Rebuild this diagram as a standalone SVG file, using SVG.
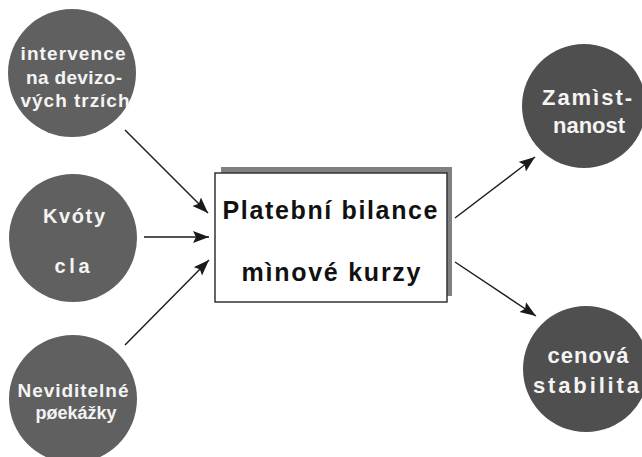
<svg xmlns="http://www.w3.org/2000/svg" width="642" height="457" viewBox="0 0 642 457">
<style>
  .cl { fill: #606060; }
  .cr { fill: #4f4f4f; }
  .t { font-family: "Liberation Sans", Arial, sans-serif; font-weight: bold; fill: #f4f4f4; text-anchor: middle; }
  .bt { font-family: "Liberation Sans", Arial, sans-serif; font-weight: bold; fill: #111; text-anchor: middle; font-size: 25px; }
  .edge { stroke: #1a1a1a; stroke-width: 1.4; fill: none; marker-end: url(#ah); }
</style>
<defs>
  <marker id="ah" markerUnits="userSpaceOnUse" markerWidth="18" markerHeight="14" refX="16" refY="6" orient="auto">
    <path d="M0,0 L16,6 L0,12 L3,6 z" fill="#1a1a1a"/>
  </marker>
</defs>
<rect width="642" height="457" fill="#ffffff"/>

<g id="intervence">
  <circle class="cl" cx="72" cy="73" r="64"/>
  <text class="t" x="73" y="60" font-size="19" textLength="105" lengthAdjust="spacing">intervence</text>
  <text class="t" x="74" y="84" font-size="19" textLength="96" lengthAdjust="spacing">na devizo-</text>
  <text class="t" x="75" y="107" font-size="19" textLength="109" lengthAdjust="spacing">vých trzích</text>
</g>

<g id="kvoty">
  <circle class="cl" cx="73" cy="238" r="64"/>
  <text class="t" x="74" y="223" font-size="20" textLength="62" lengthAdjust="spacing">Kvóty</text>
  <text class="t" x="72" y="273" font-size="20" textLength="35" lengthAdjust="spacing">cla</text>
</g>

<g id="neviditelne">
  <circle class="cl" cx="73" cy="399" r="64"/>
  <text class="t" x="73" y="397" font-size="19" textLength="111" lengthAdjust="spacing">Neviditelné</text>
  <text class="t" x="76" y="419" font-size="18">pøekážky</text>
</g>

<g id="bilance">
  <rect x="221" y="167" width="231" height="129" fill="#808080"/>
  <rect x="215" y="173" width="232" height="129" fill="#ffffff" stroke="#333333" stroke-width="1.5"/>
  <text class="bt" x="330" y="219" textLength="215" lengthAdjust="spacing">Platební bilance</text>
  <text class="bt" x="331" y="281" textLength="179" lengthAdjust="spacing">mìnové kurzy</text>
</g>

<g id="zamestnanost">
  <circle class="cr" cx="584" cy="106" r="62"/>
  <text class="t" x="587" y="105" font-size="22" textLength="90" lengthAdjust="spacing">Zamìst-</text>
  <text class="t" x="589" y="133" font-size="22" textLength="72" lengthAdjust="spacing">nanost</text>
</g>

<g id="cenova">
  <circle class="cr" cx="586" cy="369" r="63"/>
  <text class="t" x="588" y="363" font-size="22" textLength="81" lengthAdjust="spacing">cenová</text>
  <text class="t" x="533" y="393" font-size="22" style="text-anchor:start" textLength="106" lengthAdjust="spacing">stabilita</text>
</g>

<g id="connectors">
  <line class="edge" x1="125" y1="130" x2="208" y2="213"/>
  <line class="edge" x1="144" y1="237" x2="209" y2="237"/>
  <line class="edge" x1="125" y1="345" x2="209" y2="260"/>
  <line class="edge" x1="455" y1="218" x2="535" y2="157"/>
  <line class="edge" x1="455" y1="262" x2="536" y2="316"/>
</g>
</svg>
